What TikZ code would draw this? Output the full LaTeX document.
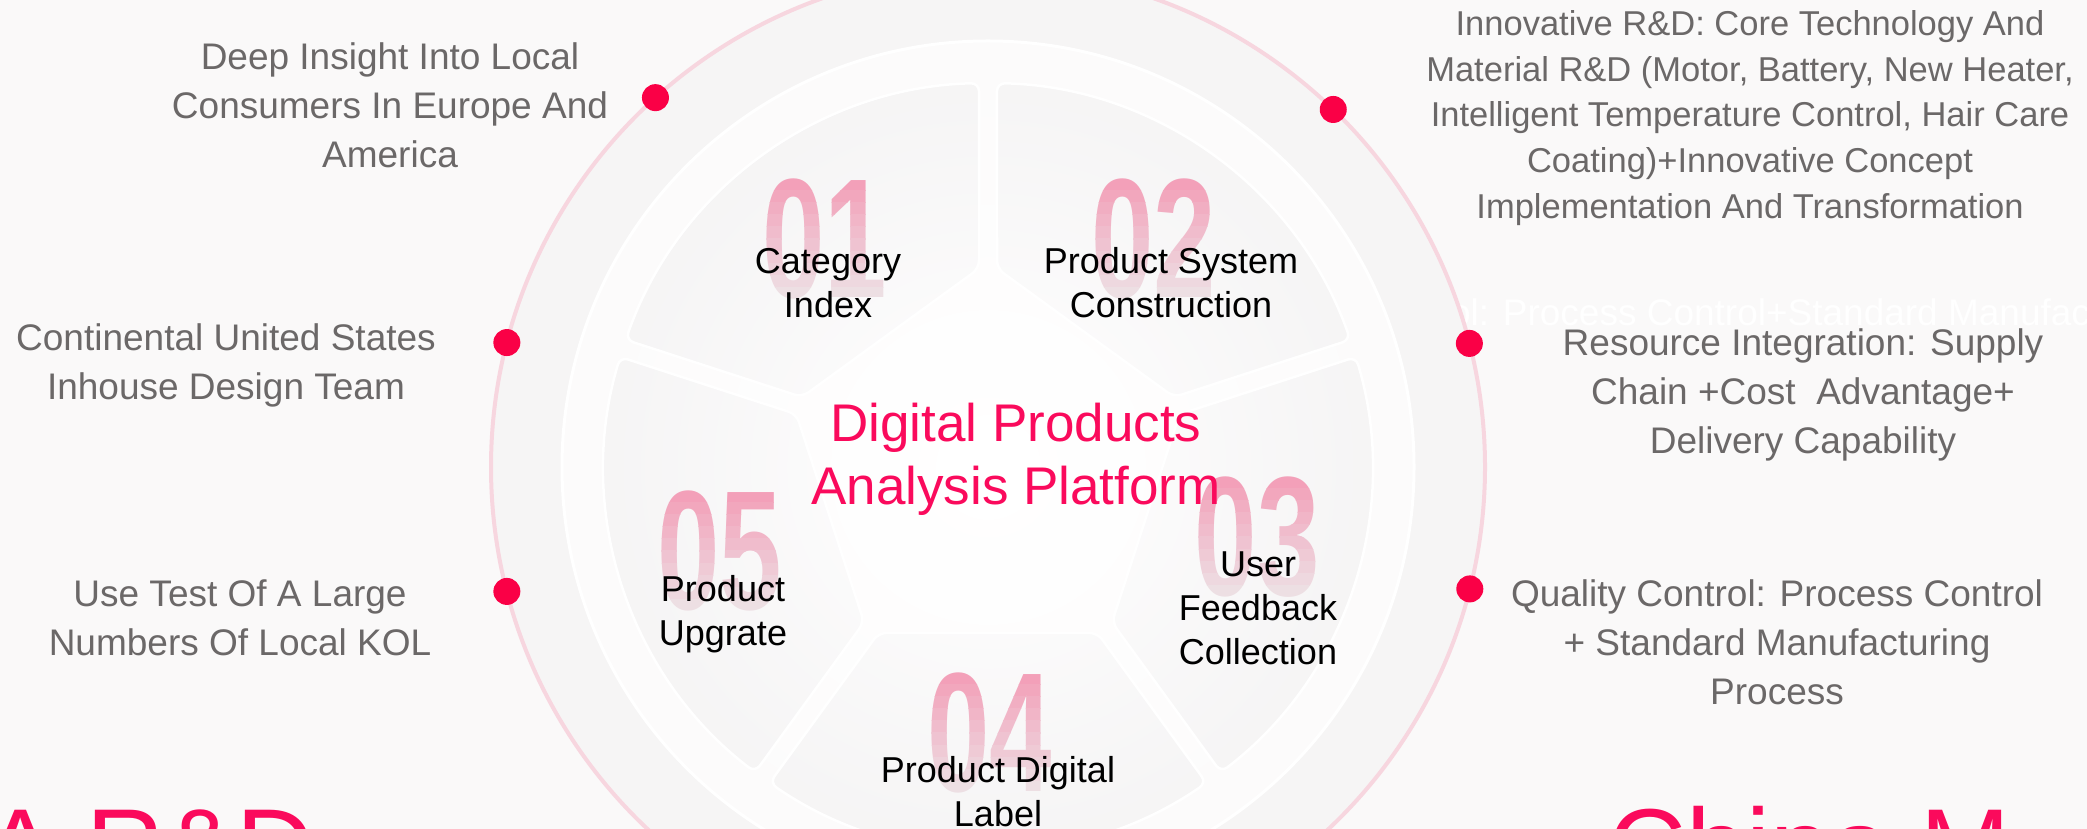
\documentclass[tikz,border=0pt]{standalone}
\usepackage{fontspec}
\setmainfont{Liberation Sans}
\usetikzlibrary{calc}

\definecolor{bgcol}{HTML}{FAF9F9}
\definecolor{disccol}{HTML}{F6F5F5}
\definecolor{ringcol}{HTML}{FCFBFB}
\definecolor{segcol}{HTML}{ECEAEB}
\definecolor{circlepink}{HTML}{F7D6DF}
\definecolor{dotred}{HTML}{FA0046}
\definecolor{titlepink}{HTML}{FA0A5C}
\definecolor{numpink}{HTML}{F39CB6}
\definecolor{greytext}{HTML}{6B6868}

% one ring piece between two corners of the middle pentagon
\newcommand\segpath[2]{($(c)+(#1:205)!0.0461!(#2:205)$) -- ($(c)+(#1+1.34:384)$)
  arc[start angle=#1+1.34, end angle=#2-1.34, radius=384]
  -- ($(c)+(#2:205)!0.0461!(#1:205)$) -- cycle}

% big faded number, painted in bands
\newcommand\bignum[3]{%
  \foreach \k in {0,...,9}{
    \pgfmathtruncatemacro\pct{95-9*\k}
    \begin{scope}
      \clip ($(#2)+(-90,61-12.2*\k)$) rectangle ($(#2)+(90,61-12.2*\k-12.4)$);
      \node[numstyle, text=numpink!\pct!segcol] (#1) at (#2) {#3};
    \end{scope}
  }}

\begin{document}
\begin{tikzpicture}[x=1pt, y=1pt,
    numstyle/.style={font=\fontsize{170}{170}\selectfont\bfseries, xscale=0.66, inner sep=0},
    lab/.style={font=\fontsize{36}{44}\selectfont, align=center, text=black, inner sep=0},
    gtext/.style={font=\fontsize{37}{49}\selectfont, align=center, text=greytext, inner sep=0},
    dot/.style={circle, fill=dotred, minimum size=27, inner sep=0},
    bigpink/.style={font=\fontsize{108}{108}\selectfont, text=titlepink, inner sep=0}]
  \useasboundingbox (0,0) rectangle (2087,829);
  \clip (0,0) rectangle (2087,829);
  \fill[bgcol] (0,0) rectangle (2087,829);

  \coordinate (c) at (988,362);

  % hidden line behind the disc
  \node[font=\fontsize{37}{49}\selectfont, text=white, anchor=base west, inner sep=0] (ghost)
    at (1234,503) {Quality Control: Process Control+Standard Manufacturing Process};

  % discs
  \fill[disccol] (c) circle[radius=497];
  \fill[ringcol] (c) circle[radius=426];
  \draw[white, line width=3] (c) circle[radius=426];
  \shade[inner color=white, outer color=ringcol] (c) circle[radius=420];

  % ring pieces
  \begin{scope}
    \clip[rounded corners=8] \segpath{90}{162} \segpath{18}{90} \segpath{-54}{18}
      \segpath{234}{306} \segpath{162}{234};
    \shade[inner color=white, outer color=segcol] (c) circle[radius=768];
  \end{scope}
  \draw[white, line width=2.5, rounded corners=8] \segpath{90}{162} \segpath{18}{90}
    \segpath{-54}{18} \segpath{234}{306} \segpath{162}{234};

  % numbers
  \bignum{n1}{825,590}{01}
  \bignum{n2}{1154,590}{02}
  \bignum{n3}{1257,292}{03}
  \bignum{n4}{990,96}{04}
  \bignum{n5}{720,278}{05}

  % labels
  \node[lab] (l1) at (828,546) {Category\\Index};
  \node[lab] (l2) at (1171,546) {Product System\\Construction};
  \node[lab] (l3) at (1258,221) {User\\Feedback\\Collection};
  \node[lab] (l4) at (998,37) {Product Digital\\Label};
  \node[lab] (l5) at (723,215) {Product\\Upgrate};
  \node[font=\fontsize{53}{63}\selectfont, align=center, text=titlepink, inner sep=0] (title)
    at (1016,370) {Digital Products\\Analysis Platform};

  % outer ring and dots
  \draw[circlepink, line width=4] (c) circle[radius=497];
  \node[dot] (d1) at ($(c)+(132:497)$) {};
  \node[dot] (d2) at ($(c)+(165.5:497)$) {};
  \node[dot] (d3) at ($(c)+(194.5:497)$) {};
  \node[dot] (d4) at ($(c)+(46:497)$) {};
  \node[dot] (d5) at ($(c)+(14.4:497)$) {};
  \node[dot] (d6) at ($(c)+(-14.2:497)$) {};

  % side texts
  \node[gtext] (t1) at (390,724) {Deep Insight Into Local\\Consumers In Europe And\\America};
  \node[gtext] (t2) at (226,464) {Continental United States\\Inhouse Design Team};
  \node[gtext] (t3) at (240,211) {Use Test Of A Large\\Numbers Of Local KOL};
  \node[gtext, font=\fontsize{34.5}{45.6}\selectfont] (t4) at (1750,711)
    {Innovative R\&D: Core Technology And\\Material R\&D (Motor, Battery, New Heater,\\Intelligent Temperature Control, Hair Care\\Coating)+Innovative Concept\\Implementation And Transformation};
  \node[gtext] (t5) at (1803,434) {Resource Integration: Supply\\Chain +Cost~~Advantage+\\Delivery Capability};
  \node[gtext] (t6) at (1777,187) {Quality Control: Process Control\\+ Standard Manufacturing\\Process};

  % big words at the bottom
  \node[bigpink, anchor=base west] (rd) at (-16,-56) {A R\&D};
  \node[bigpink, anchor=base west] (china) at (1608,-56) {China M};
\end{tikzpicture}
\end{document}
